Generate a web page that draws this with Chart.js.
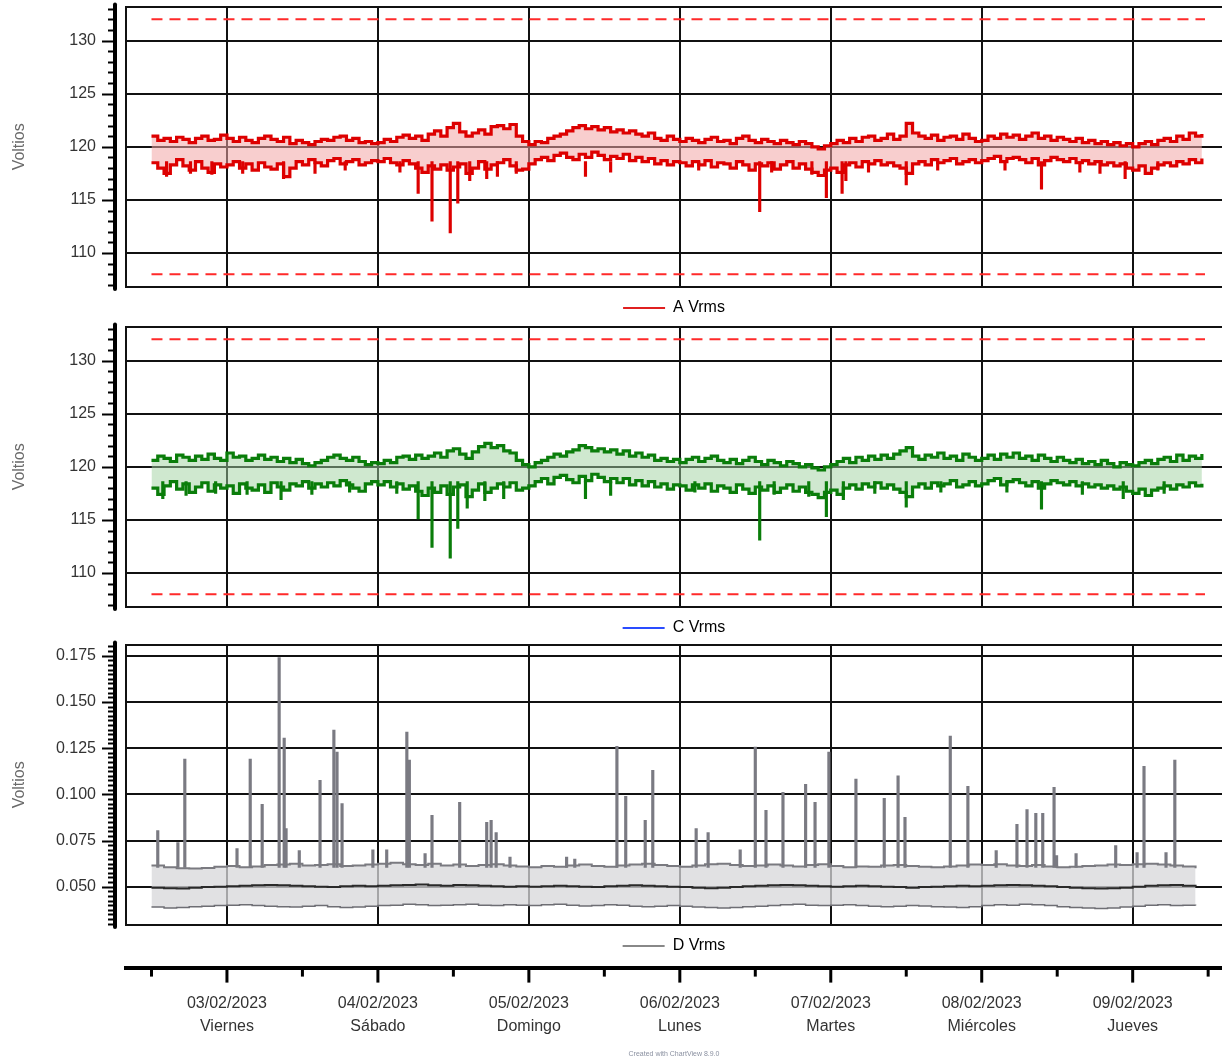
<!DOCTYPE html>
<html>
<head>
<meta charset="utf-8">
<script src="https://cdn.jsdelivr.net/npm/chart.js@4.4.0/dist/chart.umd.min.js"></script>
<style>
  body { margin: 0; background: #fff; width: 1222px; height: 1062px; position: relative; overflow: hidden; }
  canvas { position: absolute; left: 0; }
</style>
</head>
<body>
<canvas id="cA" width="1222" height="333" style="top:-7px"></canvas>
<canvas id="cC" width="1222" height="333" style="top:313px"></canvas>
<canvas id="cD" width="1222" height="333" style="top:631px"></canvas>
<canvas id="cX" width="1222" height="122" style="top:940px"></canvas>
<script>
// horas contadas desde 03/02/2023 00:00
var xMin = -16.05, xMax = 158.2;
var dayTicks = [0, 24, 48, 72, 96, 120, 144];
var noonTicks = [-12, 12, 36, 60, 84, 108, 132, 156];
var dateLabels = ['03/02/2023', '04/02/2023', '05/02/2023', '06/02/2023', '07/02/2023', '08/02/2023', '09/02/2023'];
var dayNames = ['Viernes', 'Sábado', 'Domingo', 'Lunes', 'Martes', 'Miércoles', 'Jueves'];

// A y C: un valor por hora desde -12 h
var startAC = -12, stepAC = 1;
var maxA = [
  121.0,120.6,120.8,120.5,120.9,120.7,120.4,120.8,121.0,120.6,120.7,121.1,
  120.8,120.5,120.9,120.6,120.4,120.8,121.0,120.7,120.5,120.9,120.3,120.6,120.4,120.2,120.5,120.7,120.6,120.9,121.0,120.6,120.8,120.4,120.5,120.3,
  120.4,120.7,120.5,120.9,121.1,120.8,121.0,120.6,121.2,121.5,121.0,121.8,122.2,121.4,121.0,121.3,121.6,121.2,121.9,122.0,121.7,122.1,121.0,120.5,
  120.2,120.5,120.4,120.8,121.0,121.2,121.5,121.8,122.0,121.7,121.9,121.6,121.8,121.4,121.6,121.3,121.5,121.2,121.0,121.3,120.8,120.6,121.0,120.7,
  120.5,120.8,120.6,120.4,120.7,120.9,120.5,120.6,120.3,120.8,121.0,120.6,120.4,120.7,120.5,120.3,120.6,120.4,120.2,120.5,120.3,120.0,119.8,120.1,
  120.3,120.6,120.4,120.8,120.5,120.9,121.0,120.6,120.8,121.2,120.7,121.0,122.2,121.3,121.0,120.8,121.1,120.6,120.9,121.0,120.7,121.2,120.8,120.5,
  120.6,121.0,120.8,121.2,120.9,121.1,120.7,121.0,121.3,120.8,121.0,120.6,120.9,120.7,120.5,120.8,120.4,120.6,120.3,120.5,120.2,120.4,120.1,120.3,
  120.0,120.3,120.5,120.2,120.6,120.8,120.5,121.0,120.7,121.3,121.0,121.2
];
var minA = [
  118.5,118.0,117.5,118.3,118.8,118.2,117.8,118.6,118.0,117.6,118.4,118.1,
  118.3,118.6,118.0,118.4,117.8,118.5,118.1,117.9,118.4,117.2,118.0,118.6,118.3,118.8,118.5,118.2,118.7,118.9,118.4,118.6,118.8,118.3,118.5,118.7,
  118.6,118.9,118.5,118.3,118.7,118.4,118.0,117.6,118.2,117.9,118.3,117.8,118.1,118.4,117.5,118.0,118.6,117.9,118.3,118.5,118.8,118.2,117.8,117.9,
  118.4,118.8,119.0,118.7,119.2,119.4,119.0,118.8,119.3,119.0,119.5,119.2,118.8,119.1,118.9,119.3,118.7,119.0,118.6,118.9,118.4,118.7,118.3,118.6,
  118.5,118.2,118.6,118.3,118.7,118.1,118.5,118.4,118.0,118.6,118.3,117.8,118.4,118.2,118.5,117.9,118.3,118.6,118.0,118.4,117.9,117.6,117.3,117.8,
  118.0,117.6,118.3,118.5,118.1,118.6,118.4,118.7,118.3,118.5,118.2,118.0,117.5,118.4,118.6,118.3,118.8,118.5,118.7,118.9,118.4,118.6,118.8,118.5,
  118.7,118.9,119.1,118.6,118.9,119.0,118.8,118.5,118.9,118.3,118.7,119.0,118.8,118.6,118.9,118.5,118.7,118.4,118.6,118.3,118.5,118.2,118.4,118.0,
  117.8,118.2,117.5,118.0,118.3,118.5,118.2,118.6,118.4,118.8,118.5,118.9
];
// caídas breves (mínimos de 10 min)
var spikeAT = [-9.6, -5.8, -2.4, 2.5, 9.0, 14.0, 18.8, 27.5, 30.4, 32.6, 35.5, 36.7, 38.6, 41.3, 43.0, 46.0,
  57.0, 61.0, 75.0, 84.7, 86.6, 93.0, 95.3, 97.8, 98.4, 102.0, 108.0, 113.0, 123.7, 129.5, 135.6, 138.8, 142.8, 148.0];
var spikeAV = [117.2, 117.5, 117.4, 117.5, 117.0, 117.5, 117.8, 117.6, 115.6, 113.0, 111.9, 114.7, 116.8, 117.0, 117.2, 117.5,
  117.2, 117.6, 117.8, 113.9, 117.6, 117.4, 115.2, 115.6, 116.8, 117.6, 116.4, 117.8, 117.8, 116.0, 117.6, 117.5, 117.0, 117.8];

var maxC = [
  120.6,121.0,120.8,120.5,121.1,120.9,120.6,121.0,120.7,121.2,120.8,120.6,
  121.3,120.9,121.0,120.6,120.8,121.1,120.7,120.9,120.5,120.8,120.4,120.7,120.3,120.1,120.4,120.6,120.9,121.1,120.8,120.6,120.9,120.5,120.2,120.4,
  120.3,120.6,120.4,120.9,121.0,120.7,121.1,120.8,121.0,121.3,120.9,121.5,121.7,121.2,120.8,121.4,121.9,122.2,121.8,122.0,121.5,121.3,120.6,120.2,
  120.0,120.4,120.6,120.9,121.2,121.0,121.4,121.6,122.0,121.8,121.5,121.7,121.4,121.6,121.2,121.5,121.0,121.3,120.9,121.1,120.6,120.8,120.5,120.7,
  120.4,120.7,120.9,120.5,120.8,121.0,120.6,120.4,120.7,120.3,120.6,120.9,120.5,120.2,120.6,120.4,120.1,120.5,120.3,120.0,120.2,119.9,119.7,120.0,
  120.2,120.5,120.8,120.4,120.9,120.6,121.0,120.7,121.1,120.8,121.2,121.5,121.8,121.0,120.7,121.1,120.9,121.3,120.8,121.0,120.6,121.2,120.9,120.6,
  120.8,121.1,120.7,121.2,120.9,121.3,120.8,121.0,120.6,121.1,120.8,120.5,120.9,120.6,120.4,120.7,120.3,120.5,120.2,120.6,120.3,120.0,120.4,120.2,
  120.1,120.4,120.6,120.3,120.7,120.9,120.5,121.1,120.6,121.0,120.8,121.2
];
var minC = [
  118.0,117.4,118.2,118.6,117.9,118.4,117.6,118.1,118.5,117.7,118.3,118.0,
  118.2,117.5,118.4,118.0,117.8,118.3,117.6,118.5,118.1,117.8,118.4,118.2,118.6,118.0,118.4,118.1,118.5,118.2,118.7,118.3,118.0,117.7,118.4,118.6,
  118.3,118.6,118.1,118.4,117.9,118.2,117.7,117.3,118.0,117.6,118.2,117.4,118.1,118.3,117.2,117.8,118.4,117.6,118.0,118.4,118.1,118.5,117.8,118.0,
  118.2,118.6,118.9,118.4,119.0,119.2,118.8,118.5,119.1,118.7,119.3,119.0,118.6,118.9,118.5,118.9,118.3,118.7,118.2,118.6,118.1,118.4,117.9,118.3,
  118.2,117.8,118.3,118.0,118.4,117.7,118.2,118.0,117.6,118.3,117.9,117.5,118.1,117.8,118.2,117.6,118.0,118.3,117.7,118.1,117.6,117.4,117.1,117.6,
  117.8,117.4,118.0,118.3,117.9,118.4,118.1,118.5,118.0,118.3,117.9,117.6,117.2,118.1,118.4,118.0,118.5,118.2,118.4,118.7,118.1,118.3,118.6,118.2,
  118.4,118.7,118.9,118.3,118.6,118.8,118.5,118.2,118.6,118.0,118.4,118.7,118.5,118.3,118.6,118.2,118.4,118.1,118.3,118.0,118.2,117.9,118.1,117.7,
  117.5,117.9,117.3,117.8,118.0,118.2,117.9,118.3,118.1,118.5,118.2,118.4
];
var spikeCT = [-10.2, -6.5, -1.8, 3.2, 8.6, 13.5, 19.5, 27.0, 30.4, 32.6, 35.5, 36.7, 38.2, 41.0, 44.0,
  57.0, 61.0, 74.4, 84.7, 87.0, 92.5, 95.3, 98.0, 103.0, 108.0, 113.5, 124.0, 129.5, 136.0, 142.5, 149.0];
var spikeCV = [117.0, 117.3, 117.5, 117.4, 116.9, 117.4, 117.6, 117.5, 115.1, 112.4, 111.4, 114.2, 116.1, 116.8, 117.0,
  117.0, 117.3, 117.6, 113.1, 117.4, 117.2, 115.3, 116.9, 117.5, 116.2, 117.6, 117.6, 116.0, 117.4, 117.0, 117.5];

// D: un valor cada 2 horas desde -12 h
var startD = -12, stepD = 2;
var maxD = [
  0.0615,0.0605,0.0600,0.0598,0.0602,0.0608,
  0.0612,0.0605,0.0610,0.0618,0.0620,0.0625,0.0615,0.0618,0.0622,0.0612,0.0615,0.0620,
  0.0625,0.0630,0.0622,0.0618,0.0625,0.0615,0.0620,0.0612,0.0618,0.0622,0.0615,0.0610,
  0.0605,0.0612,0.0608,0.0615,0.0620,0.0612,0.0608,0.0615,0.0620,0.0625,0.0618,0.0612,
  0.0608,0.0615,0.0622,0.0625,0.0618,0.0612,0.0615,0.0620,0.0615,0.0610,0.0618,0.0622,
  0.0612,0.0605,0.0610,0.0608,0.0615,0.0618,0.0612,0.0608,0.0605,0.0610,0.0615,0.0620,
  0.0618,0.0622,0.0615,0.0612,0.0618,0.0610,0.0605,0.0608,0.0612,0.0615,0.0620,0.0618,
  0.0622,0.0625,0.0620,0.0615,0.0610,0.0600
];
var minD = [
  0.0390,0.0385,0.0388,0.0392,0.0395,0.0398,
  0.0400,0.0402,0.0398,0.0395,0.0392,0.0390,0.0395,0.0398,0.0392,0.0388,0.0390,0.0395,
  0.0398,0.0400,0.0405,0.0402,0.0398,0.0400,0.0403,0.0405,0.0400,0.0398,0.0402,0.0400,
  0.0398,0.0402,0.0405,0.0400,0.0396,0.0398,0.0402,0.0400,0.0395,0.0392,0.0395,0.0398,
  0.0395,0.0390,0.0388,0.0385,0.0388,0.0392,0.0395,0.0398,0.0402,0.0405,0.0400,0.0398,
  0.0400,0.0402,0.0398,0.0395,0.0392,0.0395,0.0398,0.0396,0.0392,0.0390,0.0388,0.0392,
  0.0398,0.0402,0.0400,0.0405,0.0402,0.0398,0.0392,0.0388,0.0385,0.0382,0.0385,0.0390,
  0.0395,0.0400,0.0402,0.0398,0.0400,0.0398
];
var avgD = [
  0.0495,0.0492,0.0490,0.0495,0.0498,0.0500,
  0.0502,0.0505,0.0508,0.0510,0.0508,0.0505,0.0502,0.0500,0.0498,0.0502,0.0505,0.0503,
  0.0505,0.0508,0.0510,0.0512,0.0508,0.0505,0.0510,0.0508,0.0505,0.0503,0.0500,0.0502,
  0.0500,0.0502,0.0505,0.0503,0.0500,0.0498,0.0502,0.0505,0.0508,0.0505,0.0502,0.0500,
  0.0498,0.0495,0.0492,0.0495,0.0498,0.0502,0.0505,0.0508,0.0510,0.0508,0.0505,0.0502,
  0.0500,0.0502,0.0505,0.0503,0.0500,0.0498,0.0495,0.0498,0.0500,0.0502,0.0505,0.0502,
  0.0505,0.0508,0.0510,0.0508,0.0505,0.0502,0.0498,0.0495,0.0492,0.0490,0.0492,0.0495,
  0.0500,0.0505,0.0508,0.0510,0.0505,0.0502
];
var spikeDT = [-11.0, -7.8, -6.7, 1.6, 3.7, 5.6, 8.3, 9.1, 9.4, 11.5, 14.8, 17.0, 17.5, 18.3, 23.2,
  25.4, 28.6, 29.0, 31.5, 32.6, 37.0, 41.3, 42.0, 42.8, 45.0, 54.0, 55.3, 62.0, 63.4, 66.5, 67.7,
  74.6, 76.5, 81.6, 84.0, 85.7, 88.4, 92.0, 93.5, 95.7, 100.0, 104.5, 106.7, 107.8, 115.0, 117.8,
  122.3, 125.6, 127.2, 128.6, 129.7, 131.5, 131.9, 135.0, 141.3, 144.7, 145.8, 149.3, 150.7];
var spikeDV = [0.0804, 0.0739, 0.1190, 0.0707, 0.1190, 0.0946, 0.1740, 0.1304, 0.0815, 0.0696, 0.1076, 0.1348, 0.1228, 0.0950, 0.0700,
  0.0700, 0.1337, 0.1185, 0.0680, 0.0886, 0.0957, 0.0848, 0.0859, 0.0793, 0.0660, 0.0660, 0.0650, 0.1260, 0.0989, 0.0859, 0.1130,
  0.0815, 0.0793, 0.0700, 0.1255, 0.0913, 0.1011, 0.1054, 0.0957, 0.1228, 0.1082, 0.0978, 0.1100, 0.0875, 0.1315, 0.1043,
  0.0696, 0.0837, 0.0918, 0.0897, 0.0897, 0.1038, 0.0668, 0.0680, 0.0723, 0.0685, 0.1152, 0.0685, 0.1185];

// límites ±10 % de 120 V
var limHi = 132, limLo = 108;
var limitSpan = [-12, 155.5];

var yTicksV = [110, 115, 120, 125, 130];
var yTicksD = [0.05, 0.075, 0.1, 0.125, 0.15, 0.175];

var FONT = "'Liberation Sans', Arial, sans-serif";
var GRID = '#111';

function series(start, step, vals) {
  return vals.map(function (v, i) { return { x: start + i * step, y: v }; });
}
function spikes(ts, vs, base) {
  return ts.map(function (t, i) { return { x: t, y: [vs[i], base] }; });
}
function limit(v) {
  return [{ x: limitSpan[0], y: v }, { x: limitSpan[1], y: v }];
}

// eje grueso con marcas mayores y menores
var railPlugin = {
  id: 'rail',
  afterDraw: function (chart, args, o) {
    var ctx = chart.ctx, a = chart.chartArea, v;
    ctx.save();
    ctx.strokeStyle = '#000';
    if (o.axis === 'y') {
      var s = chart.scales.y, x0 = a.left - 11;
      ctx.lineWidth = 4; ctx.lineCap = 'round';
      ctx.beginPath(); ctx.moveTo(x0, a.top - 2); ctx.lineTo(x0, a.bottom + 2); ctx.stroke();
      ctx.lineWidth = 2; ctx.lineCap = 'butt';
      for (var k = 0; o.from + k * o.step <= o.to + 1e-9; k++) {
        v = o.from + k * o.step;
        var major = o.majors.some(function (m) { return Math.abs(m - v) < o.step / 10; });
        var y = Math.round(s.getPixelForValue(v)) + 0.5;
        ctx.beginPath(); ctx.moveTo(x0, y); ctx.lineTo(x0 - (major ? 13 : 7), y); ctx.stroke();
      }
    } else {
      var sx = chart.scales.x, y0 = a.bottom;
      ctx.lineWidth = 3;
      o.majors.forEach(function (m) {
        var x = sx.getPixelForValue(m);
        ctx.beginPath(); ctx.moveTo(x, y0); ctx.lineTo(x, y0 + 15); ctx.stroke();
      });
      o.minors.forEach(function (m) {
        var x = sx.getPixelForValue(m);
        if (x > 1220) return;
        ctx.beginPath(); ctx.moveTo(x, y0); ctx.lineTo(x, y0 + 9); ctx.stroke();
      });
    }
    ctx.restore();
  }
};

function panel(id, cfg) {
  return new Chart(document.getElementById(id), {
    type: 'line',
    data: { datasets: cfg.datasets },
    options: {
      responsive: false,
      animation: false,
      layout: { padding: { top: 7, left: 0, right: 0, bottom: 0 } },
      plugins: {
        tooltip: { enabled: false },
        filler: { drawTime: 'beforeDatasetsDraw' },
        legend: {
          position: 'bottom',
          fullSize: false,
          labels: {
            boxWidth: 42, boxHeight: 2, padding: 10, color: '#444',
            font: { family: FONT, size: 16 },
            generateLabels: function () {
              return [{ text: cfg.legend, fillStyle: cfg.legendColor, strokeStyle: cfg.legendColor, lineWidth: 0, hidden: false, datasetIndex: 0 }];
            }
          }
        },
        rail: { axis: 'y', from: cfg.minorFrom, to: cfg.minorTo, step: cfg.minorStep, majors: cfg.yTicks }
      },
      scales: {
        x: {
          type: 'linear', min: xMin, max: xMax, offset: false,
          afterBuildTicks: function (s) { s.ticks = dayTicks.map(function (v) { return { value: v }; }); },
          ticks: { display: false },
          grid: { color: GRID, lineWidth: 2, drawTicks: false, offset: false },
          border: { display: true, color: GRID, width: 2 },
          afterFit: function (s) { s.height = 3; }
        },
        y: {
          min: cfg.yMin, max: cfg.yMax,
          afterBuildTicks: function (s) {
            s.ticks = [cfg.yMin].concat(cfg.yTicks, [cfg.yMax]).map(function (v) { return { value: v }; });
          },
          ticks: {
            padding: 4, color: '#333', autoSkip: false,
            font: { family: FONT, size: 16 },
            callback: function (v) { return cfg.yTicks.indexOf(v) >= 0 ? cfg.fmt(v) : ''; }
          },
          grid: { color: GRID, lineWidth: 2, drawTicks: true, tickLength: 26, tickColor: 'rgba(0,0,0,0)' },
          border: { display: true, color: GRID, width: 2 },
          title: { display: true, text: 'Voltios', color: '#6a6a6a', font: { family: FONT, size: 16 }, padding: { top: 10, bottom: 0 } },
          afterFit: function (s) { s.width = 126; }
        }
      }
    },
    plugins: [railPlugin]
  });
}

function voltDatasets(maxV, minV, sT, sV, color, band) {
  return [
    { data: series(startAC, stepAC, maxV), borderColor: color, borderWidth: 3.2, stepped: true, pointRadius: 0, fill: '+1', backgroundColor: band },
    { data: series(startAC, stepAC, minV), borderColor: color, borderWidth: 3.2, stepped: true, pointRadius: 0, fill: false },
    { type: 'bar', data: spikes(sT, sV, 118.6), backgroundColor: color, barThickness: 2.5 },
    { data: limit(limHi), borderColor: '#ff2a2a', borderWidth: 2, borderDash: [11, 7], pointRadius: 0, fill: false },
    { data: limit(limLo), borderColor: '#ff2a2a', borderWidth: 2, borderDash: [11, 7], pointRadius: 0, fill: false }
  ];
}

var fmtV = function (v) { return String(v); };

panel('cA', {
  legend: 'A Vrms', legendColor: '#e02020',
  yMin: 106.8, yMax: 133.2, yTicks: yTicksV, fmt: fmtV,
  minorFrom: 107, minorTo: 133, minorStep: 1,
  datasets: voltDatasets(maxA, minA, spikeAT, spikeAV, '#dd0000', 'rgba(242,165,165,0.55)')
});

panel('cC', {
  legend: 'C Vrms', legendColor: '#2a4cff',
  yMin: 106.8, yMax: 133.2, yTicks: yTicksV, fmt: fmtV,
  minorFrom: 107, minorTo: 133, minorStep: 1,
  datasets: voltDatasets(maxC, minC, spikeCT, spikeCV, '#0a7d0a', 'rgba(160,210,160,0.5)')
});

panel('cD', {
  legend: 'D Vrms', legendColor: '#888',
  yMin: 0.0293, yMax: 0.181, yTicks: yTicksD, fmt: function (v) { return v.toFixed(3); },
  minorFrom: 0.03, minorTo: 0.18, minorStep: 0.0025,
  datasets: [
    { data: series(startD, stepD, maxD), borderColor: '#7a7a80', borderWidth: 2, stepped: true, pointRadius: 0, fill: '+1', backgroundColor: 'rgba(215,215,218,0.75)' },
    { data: series(startD, stepD, minD), borderColor: '#6e6e74', borderWidth: 1.5, stepped: true, pointRadius: 0, fill: false },
    { data: series(startD, stepD, avgD), borderColor: '#2a2a2a', borderWidth: 2, stepped: true, pointRadius: 0, fill: false },
    { type: 'bar', data: spikes(spikeDT, spikeDV, 0.0605), backgroundColor: '#7a7a82', barThickness: 2.5 }
  ]
});

// eje de tiempo común
new Chart(document.getElementById('cX'), {
  type: 'line',
  data: { datasets: [] },
  options: {
    responsive: false,
    animation: false,
    layout: { padding: { top: 0, left: 126, right: 0, bottom: 0 } },
    plugins: {
      legend: { display: false },
      tooltip: { enabled: false },
      subtitle: {
        display: true, position: 'bottom', fullSize: false,
        text: 'Created with ChartView 8.9.0', color: '#8a90a0',
        font: { family: FONT, size: 7 }, padding: { top: 4, bottom: 4 }
      },
      rail: { axis: 'x', majors: dayTicks, minors: noonTicks }
    },
    scales: {
      x: {
        type: 'linear', min: xMin, max: xMax, position: 'bottom',
        afterBuildTicks: function (s) { s.ticks = dayTicks.map(function (v) { return { value: v }; }); },
        ticks: {
          autoSkip: false, maxRotation: 0, padding: 24, color: '#333',
          font: { family: FONT, size: 16, lineHeight: 1.45 },
          callback: function (v, i) { return [dateLabels[i], dayNames[i]]; }
        },
        grid: { display: false, drawTicks: false },
        border: { display: true, color: '#000', width: 4 },
        afterFit: function (s) { s.height = 78; }
      },
      y: { display: false, min: 0, max: 1 }
    }
  },
  plugins: [railPlugin]
});
</script>
</body>
</html>
